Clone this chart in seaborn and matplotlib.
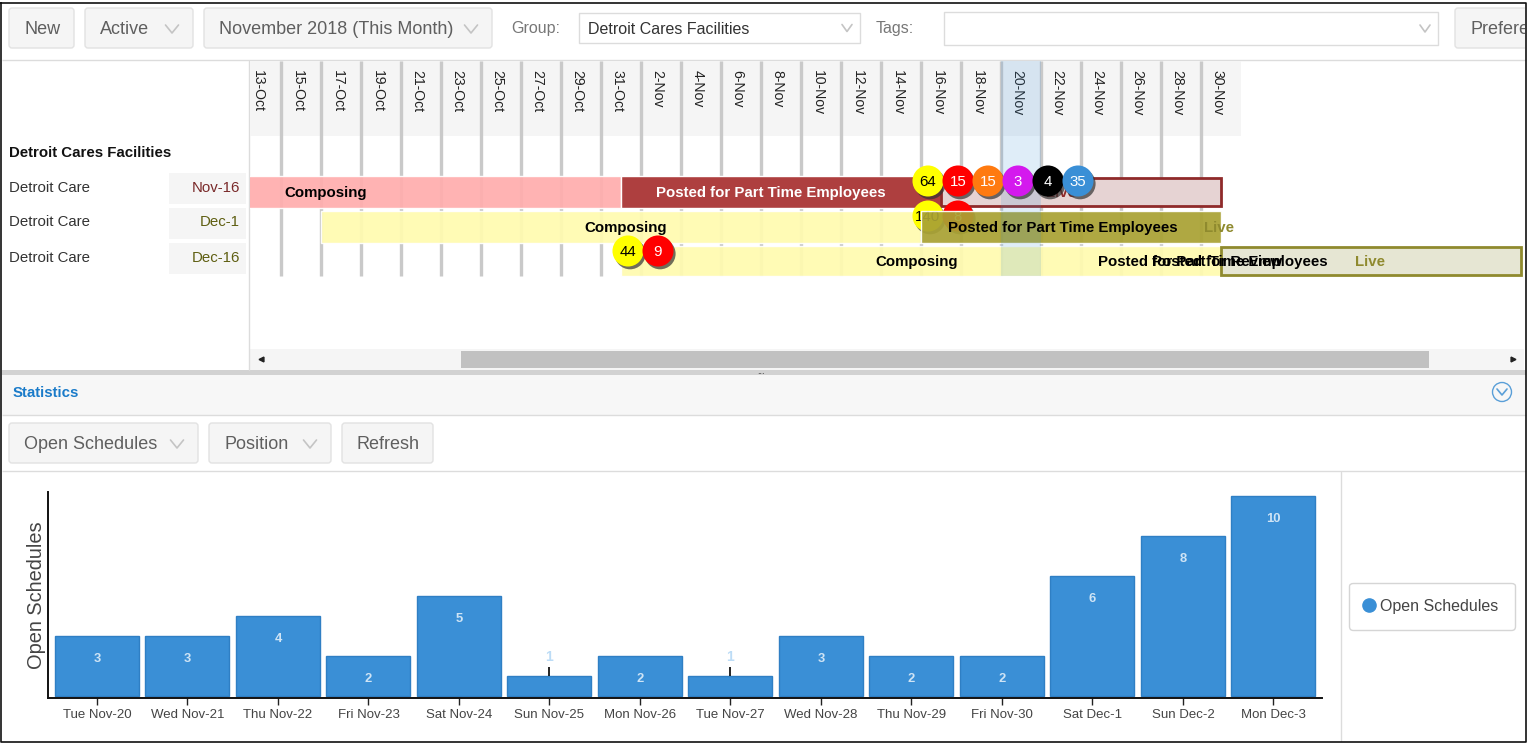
import pandas as pd
import matplotlib
matplotlib.use("Agg")
from matplotlib import pyplot as plt
from matplotlib.lines import Line2D
from matplotlib.patches import FancyBboxPatch, Rectangle, Circle
import matplotlib.patheffects as pe
import seaborn as sns

# bar chart data
stat_days = ["Tue Nov-20", "Wed Nov-21", "Thu Nov-22", "Fri Nov-23", "Sat Nov-24", "Sun Nov-25", "Mon Nov-26",
             "Tue Nov-27", "Wed Nov-28", "Thu Nov-29", "Fri Nov-30", "Sat Dec-1", "Sun Dec-2", "Mon Dec-3"]
open_schedules = [3, 3, 4, 2, 5, 1, 2, 1, 3, 2, 2, 6, 8, 10]

# gantt data
schedules = ["Nov-16", "Dec-1", "Dec-16"]
composing_start = ["2018-10-03", "2018-10-17", "2018-11-01"]
posted_start = ["2018-11-01", "2018-11-16", "2018-12-01"]
live_start = ["2018-11-17", "2018-12-01", "2018-12-01"]
live_end = ["2018-12-01", "2018-12-01", "2018-12-16"]

header_dates = pd.date_range("2018-10-13", "2018-11-30", freq="2D")

bubbles_nov16 = [64, 15, 15, 3, 4, 35]
bubbles_dec1 = [140, 8]
bubbles_dec16 = [44, 9]
bubble_colors = ["#ffff00", "#ff0000", "#ff7a10", "#d419ee", "#000000", "#3a8fd6"]
bubble_text = ["black", "white", "white", "white", "white", "white"]

sns.set_theme(style="white")
plt.rcParams["font.family"] = ["Liberation Sans", "DejaVu Sans"]

BLUE = "#3a8fd6"
GREY = "#5f5f5f"
FIG_W, FIG_H = 1529, 743


def fs(px):
    return px * 0.72


def day(d):
    return (pd.Timestamp(d) - pd.Timestamp("2018-10-13")).days


def row_y(py):
    return (py - 192) / 35


fig = plt.figure(figsize=(FIG_W / 100, FIG_H / 100), dpi=100, facecolor="white")

# page furniture, drawn in pixel coordinates
ui = fig.add_axes([0, 0, 1, 1], zorder=0)
ui.set_xlim(0, FIG_W)
ui.set_ylim(FIG_H, 0)
ui.axis("off")


def chevron(x, y, color="#c4c4c4", w=6.5, h=4):
    ui.plot([x - w, x, x + w], [y - h, y + h, y - h], color=color, lw=1.2, clip_on=False)


def button(x0, x1, y0, y1, label, caret=False, text_x=None):
    ui.add_patch(FancyBboxPatch((x0 + 2, y0 + 2), x1 - x0 - 4, y1 - y0 - 4, boxstyle="round,pad=2,rounding_size=3",
                                fc="#f5f5f5", ec="#e2e2e2", lw=1))
    tx = text_x if text_x is not None else x0 + 15
    ui.text(tx, (y0 + y1) / 2 + 1.5, label, fontsize=fs(18), color=GREY, va="center", ha="left")
    if caret:
        chevron(x1 - 21, (y0 + y1) / 2 + 1)


def select(x0, x1, y0, y1, label=""):
    ui.add_patch(Rectangle((x0, y0), x1 - x0, y1 - y0, fc="white", ec="#dcdcdc", lw=1))
    ui.text(x0 + 9, (y0 + y1) / 2 + 1, label, fontsize=fs(16), color="#333333", va="center")
    chevron(x1 - 13, (y0 + y1) / 2, w=5, h=3.5)


def hline(y, x0=2, x1=1526, color="#dcdcdc", lw=1):
    ui.plot([x0, x1], [y, y], color=color, lw=lw, solid_capstyle="butt")


button(9, 74, 8, 48, "New", text_x=24)
button(85, 193, 8, 48, "Active", caret=True, text_x=100)
button(204, 492, 8, 48, "November 2018 (This Month)", caret=True, text_x=219)
ui.text(511, 29, "Group:", fontsize=fs(16), color="#777777", va="center")
select(579, 860, 13, 43, "Detroit Cares Facilities")
ui.text(876, 28, "Tags:", fontsize=fs(16), color="#777777", va="center")
select(944, 1438, 12, 45)
pref = FancyBboxPatch((1457, 10), 90, 36, boxstyle="round,pad=2,rounding_size=3", fc="#f5f5f5", ec="#e2e2e2", lw=1)
ui.add_patch(pref)
pref.set_clip_path(Rectangle((0, 0), 1525, FIG_H, transform=ui.transData))
pref_text = ui.text(1470, 29, "Preferences", fontsize=fs(18), color=GREY, va="center")
pref_text.set_clip_path(Rectangle((0, 0), 1525, FIG_H, transform=ui.transData))
pref_text.set_clip_on(True)
hline(60)

# left panel
ui.plot([249, 249], [61, 370], color="#dcdcdc", lw=1)
ui.text(9, 153, "Detroit Cares Facilities", fontsize=fs(15), weight="bold", color="#111111", va="center")
label_colors = ["#7a2a2a", "#5f5f12", "#5f5f12"]
for i, name in enumerate(schedules):
    y = 187 + 35 * i
    ui.text(9, y + 0.5, "Detroit Care", fontsize=fs(15), color="#333333", va="center")
    ui.add_patch(Rectangle((169, y - 14), 77, 31, fc="#f5f5f5", ec="none"))
    ui.text(240, y + 0.5, name, fontsize=fs(15), color=label_colors[i], va="center", ha="right")

# scrollbar + splitter
ui.add_patch(Rectangle((250, 349), 1274, 21, fc="#f5f5f5", ec="none"))
ui.add_patch(Rectangle((461, 351), 968, 17, fc="#c1c1c1", ec="none"))
ui.plot([261], [359], marker="<", ms=3.5, color="#222222")
ui.plot([1513], [359], marker=">", ms=3.5, color="#222222")
ui.add_patch(Rectangle((2, 370), 1524, 5, fc="#d2d2d2", ec="none"))
ui.text(761, 371, "...", fontsize=fs(9), color="#444444", ha="center", va="center")

# statistics header
ui.add_patch(Rectangle((2, 375), 1524, 40, fc="#f7f7f7", ec="none"))
hline(415)
ui.text(13, 393, "Statistics", fontsize=fs(15), weight="bold", color="#1a7bc9", va="center")
ui.add_patch(Circle((1502, 392), 9.5, fc="none", ec="#5a9fd8", lw=1))
chevron(1502, 392, color="#5a9fd8", w=5, h=3)
button(9, 198, 423, 463, "Open Schedules", caret=True, text_x=24)
button(209, 331, 423, 463, "Position", caret=True, text_x=224)
button(342, 433, 423, 463, "Refresh", text_x=357)
hline(471)
ui.plot([1341, 1341], [472, 741], color="#dcdcdc", lw=1)

# outer frame
ui.plot([1, 1, 1526, 1526, 1], [3, 742, 742, 3, 3], color="#111111", lw=1.2, clip_on=False)

# gantt
gantt = fig.add_axes([250 / FIG_W, 1 - 349 / FIG_H, 1274 / FIG_W, 288 / FIG_H], zorder=2)
gantt.patch.set_alpha(0)
gantt.axis("off")
gantt.set_xlim((250 - 241) / 20, (1524 - 241) / 20)
gantt.set_ylim(row_y(349), row_y(61))

for i, d in enumerate(header_dates):
    x = day(d)
    gantt.add_patch(Rectangle((x, row_y(61)), 2, row_y(136) - row_y(61), fc="#f5f5f5", ec="none", zorder=1))
    gantt.text(x + 0.82, row_y(70), d.strftime("%-d-%b"), rotation=270, fontsize=fs(14), color="#222222",
               ha="center", va="top", zorder=2)
    if i > 0:
        gantt.plot([x, x], [row_y(61), row_y(276)], color="#c9c9c9", lw=2.4, zorder=2, solid_capstyle="butt")

heights = [32 / 35, 32 / 35, 30 / 35]
centers = [0, 1, row_y(261)]
fills = ["#ffaeae", "#fffbb0", "#fffbb0"]
posted_fills = ["#ae3f3f", "#a9a233", "#a9a233"]
for i in range(3):
    gantt.barh(centers[i], day(posted_start[i]) - day(composing_start[i]), left=day(composing_start[i]),
               height=heights[i], color=fills[i], alpha=0.93, zorder=3)

# first-row bars go under the second row's bubbles
gantt.barh(0, day(live_start[0]) - day(posted_start[0]), left=day(posted_start[0]), height=heights[0],
           color=posted_fills[0], zorder=3.5)
gantt.barh(0, day(live_end[0]) - day(live_start[0]), left=day(live_start[0]), height=28 / 35, color="#e6d3d3",
           edgecolor="#8f2a2a", linewidth=2, zorder=3.5)


# bubbles of the second row sit under its posted bar
def bubbles(values, anchor, py, colors, texts, zorder):
    xs = [day(anchor) + 0.35 + 1.5 * k for k in range(len(values))]
    ys = [row_y(py)] * len(values)
    shadow = [pe.withSimplePatchShadow(offset=(1.5, -2), shadow_rgbFace="#333333", alpha=0.7)]
    gantt.scatter(xs, ys, s=500, c=colors[:len(values)], zorder=zorder, path_effects=shadow, linewidths=0)
    for x, y, v, t in zip(xs, ys, values, texts):
        gantt.text(x, y + 0.02, str(v), color=t, fontsize=fs(15), ha="center", va="center", zorder=zorder + 0.1)


bubbles(bubbles_dec1, posted_start[1], 216, bubble_colors, bubble_text, 4)

gantt.barh(1, day(live_end[1]) - day(posted_start[1]), left=day(posted_start[1]), height=heights[1],
           color=posted_fills[1], alpha=0.93, zorder=5)
gantt.barh(centers[2], day(live_end[2]) - day(live_start[2]), left=day(live_start[2]), height=28 / 35,
           color="#e6e6d3", edgecolor="#8f8a2e", linewidth=2, zorder=5)

# today column
today = day("2018-11-20")
gantt.add_patch(Rectangle((today, row_y(61)), 2, row_y(276) - row_y(61), fc="#3a8fd6", alpha=0.16, ec="none", zorder=6))


def bar_text(x, row, label, color="black"):
    gantt.text(x, row + 0.02, label, color=color, fontsize=fs(15), weight="bold", ha="center", va="center", zorder=7)


bar_text(4.25, 0, "Composing")
bar_text(26.5, 0, "Posted for Part Time Employees", "white")
bar_text(41, 0, "Live", "#8f2a2a")
bar_text(19.25, 1, "Composing")
bar_text(41.1, 1, "Posted for Part Time Employees")
bar_text(48.9, 1, "Live", "#8f8a2e")
bar_text(33.8, centers[2], "Composing")
bar_text(48.6, centers[2], "Posted for Part Time Employees")
bar_text(48.8, centers[2], "Posted for Review")
bar_text(56.45, centers[2], "Live", "#8f8a2e")

bubbles(bubbles_nov16, posted_start[1], 181, bubble_colors, bubble_text, 8)
bubbles(bubbles_dec16, posted_start[0], 251, bubble_colors, bubble_text, 8)

# statistics chart
ax = fig.add_axes([48 / FIG_W, 1 - 698 / FIG_H, (1322 - 48) / FIG_W, (698 - 492) / FIG_H], zorder=1)
ax.patch.set_alpha(0)
sns.barplot(x=stat_days, y=open_schedules, color=BLUE, saturation=1, width=0.928, edgecolor="#2f7fc4", linewidth=1,
            ax=ax)
ax.set_xlim(-0.541, 13.536)
ax.set_ylim(-0.1, 10.2)
ax.set_yticks([])
ax.set_ylabel("Open Schedules", fontsize=fs(20), color="#444444", labelpad=1.5)
ax.set_xlabel("")
ax.tick_params(axis="x", bottom=True, length=5, width=1, color="#222222", labelsize=fs(13.3), labelcolor="#444444",
               pad=3)
sns.despine(ax=ax)
for side in ["left", "bottom"]:
    ax.spines[side].set_color("#111111")
    ax.spines[side].set_linewidth(1.4)

for i, v in enumerate(open_schedules):
    if v == 1:
        ax.vlines(i, v, v + 0.45, color="black", lw=1.2)
        ax.annotate(str(v), (i, v), xytext=(0, 19), textcoords="offset pixels", color="#bcdcf6", fontsize=fs(14),
                    weight="bold", ha="center", va="center")
    else:
        ax.annotate(str(v), (i, v), xytext=(0, -23), textcoords="offset pixels", color="#cfe4f5", fontsize=fs(13),
                    weight="bold", ha="center", va="center")

handle = Line2D([], [], marker="o", ls="none", ms=9.5, color=BLUE)
fig.legend([handle], ["Open Schedules"], loc="center", bbox_to_anchor=(1432 / FIG_W, 1 - 606 / FIG_H),
           fontsize=fs(16), frameon=True, fancybox=True, edgecolor="#d5d5d5", facecolor="white", framealpha=1,
           handlelength=0.4, handletextpad=0.54, borderpad=1.0, labelcolor="#444444")

fig.savefig("out.png", dpi=100)
